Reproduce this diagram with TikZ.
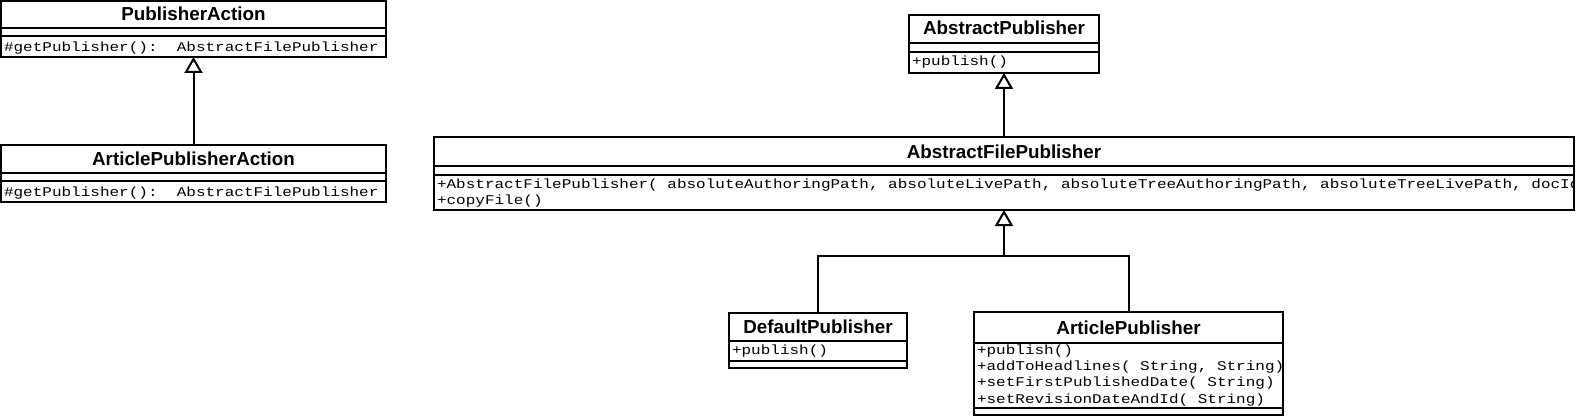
\documentclass[tikz,border=0pt]{standalone}
\usepackage{fontspec}
\setmainfont{Liberation Sans}
\newfontfamily\umlmono[FakeStretch=1.2]{Liberation Mono}
\usetikzlibrary{arrows.meta}
\newcommand\mkclass[5]{%
  \node[classbox, minimum width={(#4-#2)*0.75pt}, minimum height={(#5-#3)*0.75pt}] (#1) at (#2,#3) {};}
\begin{document}
\frenchspacing
\begin{tikzpicture}[x=0.75pt,y=-0.75pt,line width=1.5pt,
  classbox/.style={draw=black, fill=white, rectangle, inner sep=0pt, outer sep=0pt, anchor=north west},
  cname/.style={font=\bfseries\fontsize{14.1}{16}\selectfont, anchor=base, inner sep=0pt},
  meth/.style={font=\umlmono\fontsize{10}{12}\selectfont, anchor=base west, inner sep=0pt},
  inh/.style={-{Triangle[width=13.5pt,length=12pt,fill=white]}},
  sep/.style={draw=black}]
\useasboundingbox[fill=white] (0,0) rectangle (1576,417);

% PublisherAction
\mkclass{pa}{1}{1}{386}{57}
\draw[sep] (1,28) -- (386,28);
\draw[sep] (1,36) -- (386,36);
\node[cname] (pat) at (193.5,21) {PublisherAction};
\node[meth] (pam) at (3,52) {\#getPublisher():\ \ AbstractFilePublisher};

% ArticlePublisherAction
\mkclass{apa}{1}{145}{386}{202}
\draw[sep] (1,173) -- (386,173);
\draw[sep] (1,181) -- (386,181);
\node[cname] (apat) at (193.5,166) {ArticlePublisherAction};
\node[meth] (apam) at (3,196.5) {\#getPublisher():\ \ AbstractFilePublisher};

% AbstractPublisher
\mkclass{ap}{909}{15}{1099}{73}
\draw[sep] (909,43) -- (1099,43);
\draw[sep] (909,52) -- (1099,52);
\node[cname] (apt) at (1004,35) {AbstractPublisher};
\node[meth] (apm) at (911,66) {+publish()};

% AbstractFilePublisher
\mkclass{afp}{434}{137}{1574}{210}
\draw[sep] (434,166) -- (1574,166);
\draw[sep] (434,175) -- (1574,175);
\node[cname] (afpt) at (1004,158) {AbstractFilePublisher};
\begin{scope}
\clip (435,176) rectangle (1573,209);
\node[meth] (afpm1) at (436,188) {+AbstractFilePublisher( absoluteAuthoringPath, absoluteLivePath, absoluteTreeAuthoringPath, absoluteTreeLivePath, docId};
\node[meth] (afpm2) at (436,204) {+copyFile()};
\end{scope}

% DefaultPublisher
\mkclass{dp}{729}{313}{907}{368}
\draw[sep] (729,341) -- (907,341);
\draw[sep] (729,361) -- (907,361);
\node[cname] (dpt) at (818,333) {DefaultPublisher};
\node[meth] (dpm) at (731,354) {+publish()};

% ArticlePublisher
\mkclass{ar}{974}{312}{1283}{415}
\draw[sep] (974,343) -- (1283,343);
\draw[sep] (974,408) -- (1283,408);
\node[cname] (art) at (1128.5,334) {ArticlePublisher};
\node[meth] (arm1) at (976,354.5) {+publish()};
\node[meth] (arm2) at (976,370.7) {+addToHeadlines( String, String)};
\node[meth] (arm3) at (976,386.9) {+setFirstPublishedDate( String)};
\node[meth] (arm4) at (976,403.1) {+setRevisionDateAndId( String)};

% generalisations
\draw[inh] (apa.north) -- (pa.south);
\draw[inh] (afp.north) -- (ap.south);
\coordinate (j) at (1004,256);
\draw[inh] (j) -- (j |- afp.south);
\draw (dp.north) |- (j) -| (ar.north);
\end{tikzpicture}
\end{document}
